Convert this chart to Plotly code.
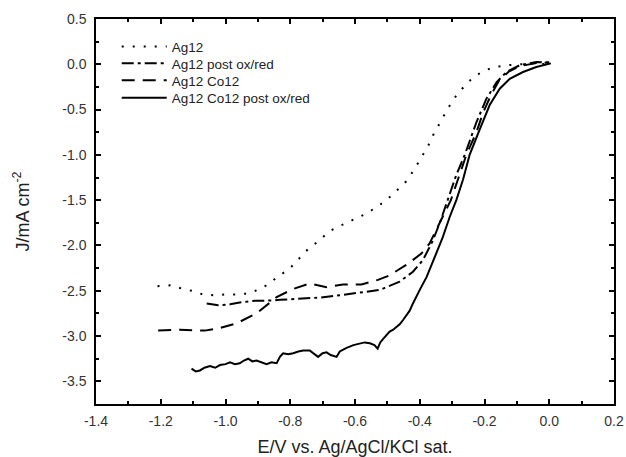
import plotly.graph_objects as go

# Ag12 (dotted)
ag12_x = [-1.21, -1.17, -1.14, -1.105, -1.07, -1.035, -1.0, -0.965, -0.93, -0.9, -0.868, -0.837,
          -0.803, -0.773, -0.745, -0.712, -0.678, -0.644, -0.609, -0.572, -0.539, -0.503, -0.47,
          -0.441, -0.415, -0.395, -0.374, -0.357, -0.338, -0.318, -0.297, -0.269, -0.237, -0.202,
          -0.166, -0.132, -0.09, -0.05, 0.0]
ag12_y = [-2.45, -2.44, -2.47, -2.50, -2.54, -2.55, -2.54, -2.54, -2.53, -2.49, -2.43, -2.34,
          -2.26, -2.15, -2.04, -1.95, -1.84, -1.78, -1.72, -1.66, -1.59, -1.50, -1.39,
          -1.29, -1.15, -1.02, -0.90, -0.77, -0.64, -0.52, -0.39, -0.27, -0.15, -0.07,
          -0.03, -0.01, 0.0, 0.01, 0.0]

# Ag12 post ox/red (dash-dot)
ag12p_x = [-1.058, -1.022, -0.986, -0.956, -0.909, -0.873, -0.832, -0.77, -0.709, -0.647, -0.585,
           -0.523, -0.462, -0.421, -0.39, -0.36, -0.335, -0.313, -0.287, -0.261, -0.225, -0.194,
           -0.163, -0.132, -0.091, -0.04, 0.0]
ag12p_y = [-2.64, -2.66, -2.65, -2.63, -2.61, -2.61, -2.60, -2.59, -2.575, -2.55, -2.52,
           -2.49, -2.40, -2.29, -2.16, -1.95, -1.72, -1.50, -1.22, -1.0, -0.64, -0.38,
           -0.20, -0.085, -0.01, 0.025, 0.02]

# Ag12 Co12 (dashed)
agco_x = [-1.208, -1.141, -1.064, -1.017, -0.966, -0.904, -0.842, -0.791, -0.74, -0.688, -0.637,
          -0.58, -0.529, -0.493, -0.436, -0.395, -0.37, -0.345, -0.32, -0.304, -0.28, -0.256,
          -0.225, -0.204, -0.18, -0.155, -0.125, -0.09, -0.04, 0.0]
agco_y = [-2.94, -2.93, -2.94, -2.91, -2.86, -2.75, -2.57, -2.48, -2.42, -2.46, -2.43,
          -2.43, -2.38, -2.33, -2.20, -2.09, -1.98, -1.80, -1.62, -1.50, -1.25, -1.0,
          -0.75, -0.53, -0.34, -0.18, -0.08, -0.02, 0.015, 0.02]

# Ag12 Co12 post ox/red (solid)
agcop_x = [-1.105, -1.092, -1.079, -1.065, -1.048, -1.032, -1.017, -1.0, -0.986, -0.971, -0.956,
           -0.943, -0.93, -0.917, -0.904, -0.889, -0.873, -0.858, -0.842, -0.832, -0.822, -0.806,
           -0.791, -0.775, -0.76, -0.74, -0.727, -0.714, -0.7, -0.688, -0.675, -0.657, -0.647,
           -0.626, -0.605, -0.585, -0.57, -0.554, -0.54, -0.53, -0.522, -0.513, -0.493, -0.482,
           -0.472, -0.462, -0.451, -0.441, -0.431, -0.421, -0.41, -0.4, -0.379, -0.359, -0.345,
           -0.33, -0.307, -0.287, -0.266, -0.246, -0.215, -0.184, -0.153, -0.122, -0.081, -0.04,
           0.005]
agcop_y = [-3.36, -3.39, -3.38, -3.35, -3.33, -3.35, -3.32, -3.31, -3.29, -3.31, -3.30,
           -3.27, -3.25, -3.28, -3.27, -3.29, -3.31, -3.29, -3.30, -3.23, -3.19, -3.20,
           -3.19, -3.17, -3.16, -3.16, -3.20, -3.23, -3.19, -3.18, -3.21, -3.23, -3.17,
           -3.13, -3.10, -3.08, -3.07, -3.08, -3.10, -3.14, -3.07, -3.03, -2.95, -2.93,
           -2.90, -2.87, -2.82, -2.77, -2.72, -2.64, -2.57, -2.49, -2.35, -2.18, -2.05,
           -1.92, -1.68, -1.50, -1.27, -1.0, -0.72, -0.45, -0.27, -0.16, -0.085, -0.03,
           0.01]

x_ticks = [-1.4, -1.2, -1.0, -0.8, -0.6, -0.4, -0.2, 0.0, 0.2]
y_ticks = [0.5, 0.0, -0.5, -1.0, -1.5, -2.0, -2.5, -3.0, -3.5]

FONT = "Liberation Sans, Arial, sans-serif"

fig = go.Figure()
series = [
    ("Ag12", ag12_x, ag12_y, "2px,9px", "legend"),
    ("Ag12 post ox/red", ag12p_x, ag12p_y, "12px,4px,3px,4px", "legend2"),
    ("Ag12 Co12", agco_x, agco_y, "13px,8px", "legend3"),
    ("Ag12 Co12 post ox/red", agcop_x, agcop_y, "solid", "legend4"),
]
for name, xs, ys, dash, leg in series:
    fig.add_trace(go.Scatter(x=xs, y=ys, mode="lines", name=name, legend=leg,
                             line=dict(color="black", width=2, dash=dash)))

axis_common = dict(
    showline=True, linecolor="black", linewidth=1.5, mirror="ticks",
    ticks="inside", ticklen=5, tickwidth=1.5, tickcolor="black",
    showgrid=False, zeroline=False, automargin=False,
    tickfont=dict(family=FONT, size=14, color="#333"),
)

fig.update_xaxes(
    range=[-1.4, 0.2], tickvals=x_ticks, ticktext=[f"{v:.1f}" for v in x_ticks],
    minor=dict(dtick=0.1, tick0=0, ticks="inside", ticklen=3, tickwidth=1.5, tickcolor="black"),
    ticklabelstandoff=3,
    title=dict(text="E/V vs. Ag/AgCl/KCl sat.", font=dict(family=FONT, size=18, color="#222"),
               standoff=16),
    **axis_common)
fig.update_yaxes(
    range=[-3.75, 0.5], tickvals=y_ticks, ticktext=[f"{v:.1f}" for v in y_ticks],
    minor=dict(dtick=0.25, tick0=0, ticks="inside", ticklen=3, tickwidth=1.5, tickcolor="black"),
    ticklabelstandoff=5,
    title=dict(text="J/mA cm<sup>-2</sup>", font=dict(family=FONT, size=18, color="#222"),
               standoff=28),
    **axis_common)

# legend rows (pixel centres in the reference inside a 385 px tall plot)
row_centres = [46.7, 63.5, 80.5, 98.0]
legend_cfg = {}
for i, key in enumerate(["legend", "legend2", "legend3", "legend4"]):
    legend_cfg[key] = dict(
        x=0.04, y=1 - (row_centres[i] - 19) / 385, xanchor="left", yanchor="middle",
        bgcolor="rgba(0,0,0,0)", borderwidth=0,
        font=dict(family=FONT, size=13.5, color="#222"),
        itemwidth=45)

fig.update_layout(
    width=626, height=457,
    margin=dict(l=96, r=12, t=19, b=53),
    paper_bgcolor="white", plot_bgcolor="white",
    showlegend=True,
    **legend_cfg,
)

fig.write_html("out.html")
